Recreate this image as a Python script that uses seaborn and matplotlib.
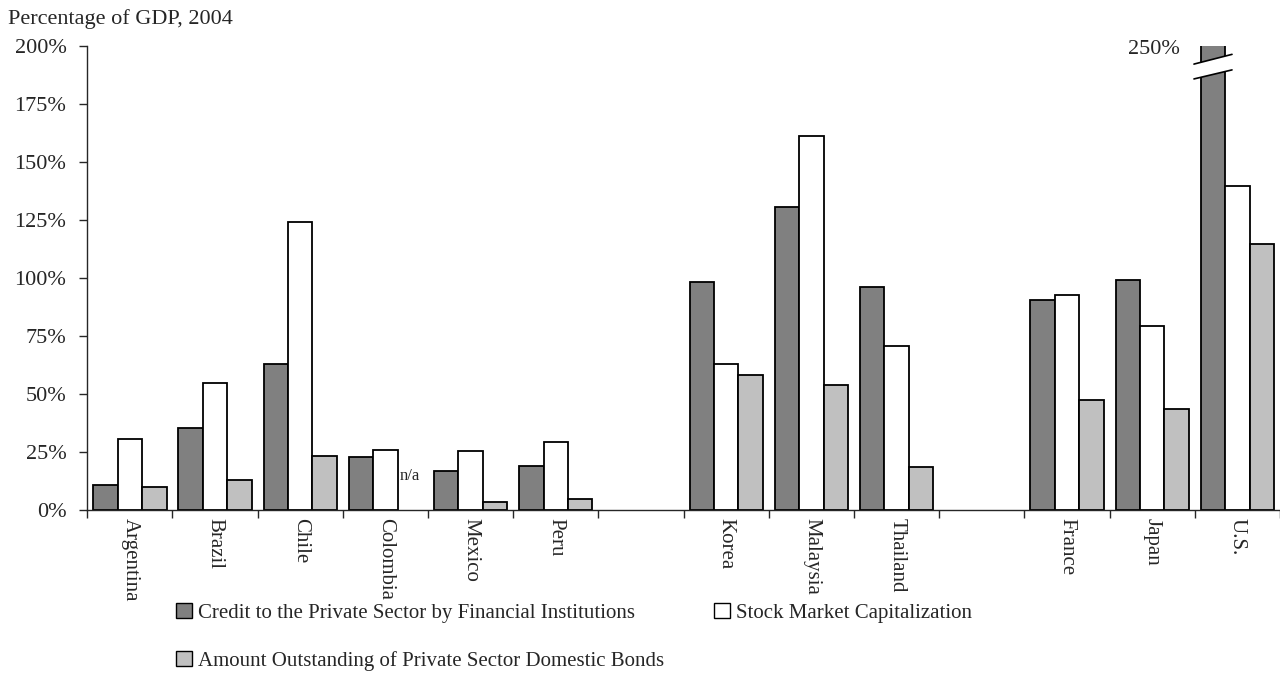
import numpy as np
import pandas as pd
import seaborn as sns
import matplotlib
matplotlib.use("Agg")
import matplotlib.pyplot as plt
from matplotlib.patches import Patch, Polygon
from matplotlib.ticker import FixedLocator

# ---------------- data ----------------
countries = ["Argentina", "Brazil", "Chile", "Colombia", "Mexico", "Peru",
             "Korea", "Malaysia", "Thailand", "France", "Japan", "U.S."]
credit = [10.8, 35.2, 63.1, 23.0, 16.7, 18.8, 98.1, 130.5, 96.3, 90.6, 99.3, 250.0]
stock = [30.7, 54.7, 124.1, 26.0, 25.6, 29.4, 63.1, 161.2, 70.6, 92.8, 79.4, 139.8]
bonds = [10.0, 12.9, 23.3, np.nan, 3.4, 4.9, 58.3, 53.7, 18.5, 47.5, 43.7, 114.8]

# category slots on the x axis (blank slots separate the regions)
order = ["Argentina", "Brazil", "Chile", "Colombia", "Mexico", "Peru", "",
         "Korea", "Malaysia", "Thailand", " ", "France", "Japan", "U.S."]

series = ["Credit to the Private Sector by Financial Institutions",
          "Stock Market Capitalization",
          "Amount Outstanding of Private Sector Domestic Bonds"]
colors = ["#808080", "#ffffff", "#c0c0c0"]
yticks = [0, 25, 50, 75, 100, 125, 150, 175, 200]
ylabel_text = "Percentage of GDP, 2004"
na_label = "n/a"

df = pd.DataFrame({"Country": countries, series[0]: credit,
                   series[1]: stock, series[2]: bonds})
long = df.melt(id_vars="Country", var_name="Series", value_name="Value")

# ---------------- style ----------------
sns.set_style("ticks")
plt.rcParams["font.family"] = ["Liberation Serif", "DejaVu Serif"]
plt.rcParams["axes.linewidth"] = 1.0

fig = plt.figure(figsize=(12.8, 7), dpi=100)
W, H = 1280, 700
ax = fig.add_axes([87.3 / W, 1 - 510 / H, (1280 - 87.3) / W, (510 - 46) / H])

sns.barplot(data=long, x="Country", y="Value", hue="Series", order=order,
            hue_order=series, palette=dict(zip(series, colors)),
            edgecolor="black", linewidth=1.3, width=0.86, legend=False,
            errorbar=None, ax=ax)

ax.set_xlim(-0.5, len(order) - 0.5)
ax.set_ylim(0, 200)
sns.despine(ax=ax)

# y axis
ax.set_yticks(yticks)
ax.set_yticklabels([f"{v}%" for v in yticks], fontsize=16)
ax.tick_params(axis="y", direction="out", length=6, width=1, pad=9)

# x axis: labels at centres, ticks at the slot boundaries
ax.set_xticks(range(len(order)))
ax.set_xticklabels(order, rotation=-90, fontsize=15, va="top", ha="center")
ax.tick_params(axis="x", which="major", length=0, pad=6)
ax.xaxis.set_minor_locator(FixedLocator(np.arange(-0.5, len(order), 1.0)))
ax.tick_params(axis="x", which="minor", direction="out", length=6, width=1)
ax.set_xlabel("")
ax.set_ylabel("")

fig.text(8 / W, 1 - 19 / H, ylabel_text, fontsize=16, ha="left", va="center")

# n/a label above the missing Colombia bonds bar
col_x = order.index("Colombia")
ax.text(col_x + 0.86 / 3, 14.5, na_label, fontsize=12, ha="center", va="center")

# axis break on the U.S. credit bar (it exceeds the scale)
us_x = order.index("U.S.")
bw = 0.86 / 3
us_patch = None
for p in ax.patches:
    cx = p.get_x() + p.get_width() / 2
    if abs(cx - (us_x - bw)) < 1e-6 and p.get_height() > 200:
        us_patch = p
if us_patch is None:
    us_patch = max(ax.patches, key=lambda p: p.get_height())
x0 = us_patch.get_x() - 0.08
x1 = us_patch.get_x() + us_patch.get_width() + 0.08
lo0, lo1, hi0, hi1 = 185.8, 189.7, 192.2, 196.4
poly = Polygon([[x0, lo0], [x1, lo1], [x1, hi1], [x0, hi0]], closed=True,
               facecolor="white", edgecolor="none", zorder=5, clip_on=False)
ax.add_patch(poly)
ax.plot([x0, x1], [lo0, lo1], color="black", lw=1.2, zorder=6, clip_on=False)
ax.plot([x0, x1], [hi0, hi1], color="black", lw=1.2, zorder=6, clip_on=False)
ax.text(us_patch.get_x() - 0.24, 198.5, f"{credit[-1]:.0f}%", fontsize=16,
        ha="right", va="center")

# legend (row 1: credit, stock; row 2: bonds)
handles = [Patch(facecolor=c, edgecolor="black", linewidth=1.0, label=s)
           for s, c in zip(series, colors)]
leg_handles = [handles[0], handles[2], handles[1]]
fig.legend(handles=leg_handles, ncol=2, loc="upper left",
           bbox_to_anchor=(176 / W, 1 - 603 / H), frameon=False, fontsize=15,
           handlelength=0.75, handleheight=0.75, handletextpad=0.3,
           columnspacing=2.4, labelspacing=1.35, borderpad=0, borderaxespad=0)

fig.savefig("out.png", dpi=100)
